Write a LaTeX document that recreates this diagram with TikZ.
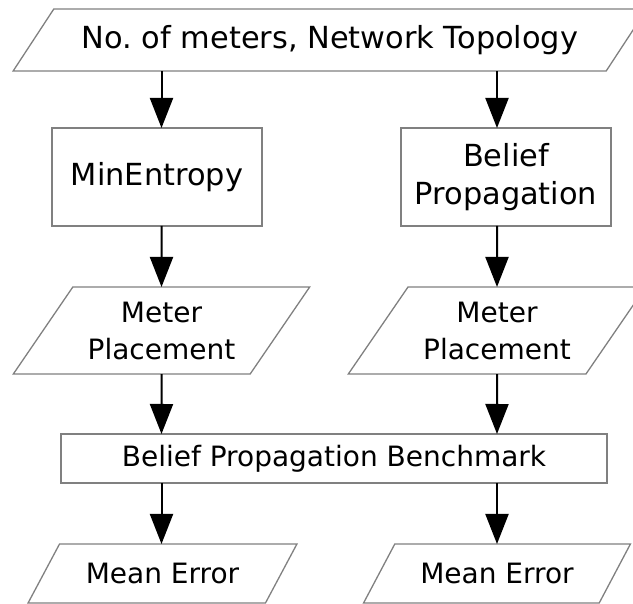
\documentclass[tikz,border=0pt]{standalone}
\usepackage{fontspec}
\setmainfont{DejaVu Sans}
\usetikzlibrary{shapes.geometric,arrows.meta}
\definecolor{edgegray}{RGB}{128,128,128}
\frenchspacing
\begin{document}
\begin{tikzpicture}[x=1pt,y=-1pt,
  every node/.style={font=\fontsize{28}{37}\selectfont, align=center, inner sep=0pt, outer sep=0pt},
  bigtext/.style={font=\fontsize{30.4}{38}\selectfont},
  box/.style={draw=edgegray, line width=1.3pt, rectangle},
  io/.style 2 args={draw=edgegray, line width=1.3pt, trapezium, trapezium stretches=true,
    trapezium left angle=#1, trapezium right angle=#2},
  flow/.style={-{Triangle[length=30pt,width=23pt]}, line width=2pt, black}]
\useasboundingbox (0,0) rectangle (633,604);
\clip (0,0) rectangle (633,604);

\node[io={38.84}{141.16}, bigtext, minimum width=634pt, minimum height=62pt] (top) at (330,40) {No.\ of meters, Network Topology};

\node[box, bigtext, minimum width=210pt, minimum height=98pt] (minent) at (157,177) {MinEntropy};
\node[box, bigtext, minimum width=210pt, minimum height=98pt] (bp) at (506,177) {Belief\\Propagation};

\node[io={49.4}{130.6}, minimum width=297pt, minimum height=87pt] (mpL) at (161.5,330.5) {Meter\\Placement};
\node[io={49.4}{130.6}, minimum width=298pt, minimum height=87pt] (mpR) at (497,330.5) {Meter\\Placement};

\node[box, minimum width=546pt, minimum height=49pt] (bench) at (334,458.5) {Belief Propagation Benchmark};

\node[io={41.6}{138.4}, minimum width=269pt, minimum height=59pt] (meL) at (162.5,573.5) {Mean Error};
\node[io={41.6}{138.4}, minimum width=267pt, minimum height=59pt] (meR) at (497,573.5) {Mean Error};

\draw[flow] (top.south -| mpL.center) -- (minent.north -| mpL.center);
\draw[flow] (top.south -| mpR.center) -- (bp.north -| mpR.center);
\draw[flow] (minent.south -| mpL.center) -- (mpL.north);
\draw[flow] (bp.south -| mpR.center) -- (mpR.north);
\draw[flow] (mpL.south) -- (bench.north -| mpL.center);
\draw[flow] (mpR.south) -- (bench.north -| mpR.center);
\draw[flow] (bench.south -| mpL.center) -- (meL.north -| mpL.center);
\draw[flow] (bench.south -| mpR.center) -- (meR.north -| mpR.center);
\end{tikzpicture}
\end{document}
